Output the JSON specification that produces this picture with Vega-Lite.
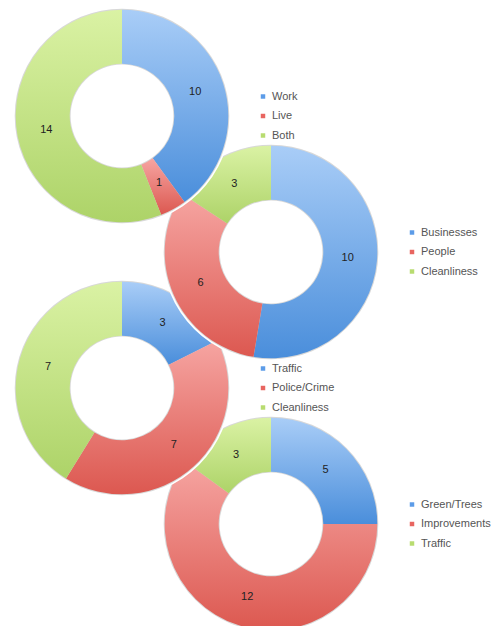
{
  "$schema": "https://vega.github.io/schema/vega-lite/v6.json",
  "width": 503,
  "height": 626,
  "padding": 0,
  "autosize": {"type": "fit", "contains": "padding"},
  "background": "white",
  "config": {"view": {"stroke": null}},
  "datasets": {
    "d": [
      {"chart": 1, "side": "left", "cat": "Work", "colorKey": "blue", "item": 0, "value": 10},
      {"chart": 1, "side": "left", "cat": "Live", "colorKey": "red", "item": 1, "value": 1},
      {"chart": 1, "side": "left", "cat": "Both", "colorKey": "green", "item": 2, "value": 14},
      {"chart": 2, "side": "right", "cat": "Businesses", "colorKey": "blue", "item": 0, "value": 10},
      {"chart": 2, "side": "right", "cat": "People", "colorKey": "red", "item": 1, "value": 6},
      {"chart": 2, "side": "right", "cat": "Cleanliness", "colorKey": "green", "item": 2, "value": 3},
      {"chart": 3, "side": "left", "cat": "Traffic", "colorKey": "blue", "item": 0, "value": 3},
      {"chart": 3, "side": "left", "cat": "Police/Crime", "colorKey": "red", "item": 1, "value": 7},
      {"chart": 3, "side": "left", "cat": "Cleanliness", "colorKey": "green", "item": 2, "value": 7},
      {"chart": 4, "side": "right", "cat": "Green/Trees", "colorKey": "blue", "item": 0, "value": 5},
      {"chart": 4, "side": "right", "cat": "Improvements", "colorKey": "red", "item": 1, "value": 12},
      {"chart": 4, "side": "right", "cat": "Traffic", "colorKey": "green", "item": 2, "value": 3}
    ]
  },
  "data": {"name": "d"},
  "encoding": {
    "x": {"field": "side", "type": "nominal", "axis": null, "scale": {"type": "point", "padding": 0, "domain": ["left", "right"], "range": [122, 271]}},
    "y": {"field": "chart", "type": "ordinal", "axis": null, "scale": {"type": "point", "padding": 0, "domain": [1, 2, 3, 4], "range": [116, 524]}}
  },
  "layer": [
    {
      "transform": [{"filter": "datum.chart === 4"}],
      "layer": [
        {"transform": [{"filter": "datum.item === 0"}], "mark": {"type": "arc", "theta": 0, "theta2": 6.2832, "radius": 108.8, "radius2": 50, "fill": "white", "opacity": 1}},
        {"transform": [{"filter": "datum.item === 0"}], "mark": {"type": "arc", "theta": 0, "theta2": 6.2832, "radius": 107.3, "radius2": 51.4, "fill": "#d8d8d8", "opacity": 1}},
        {"mark": {"type": "arc", "radius": 106.3, "radius2": 52.3, "opacity": 1},
         "encoding": {"theta": {"field": "value", "type": "quantitative", "stack": true}, "order": {"field": "item", "type": "quantitative"},
           "fill": {"condition": [
             {"test": "datum.colorKey === 'blue'", "value": {"gradient": "linear", "x1": 0, "y1": 0, "x2": 0, "y2": 1, "stops": [{"offset": 0, "color": "#a9cdf7"}, {"offset": 1, "color": "#4a8edb"}]}},
             {"test": "datum.colorKey === 'red'", "value": {"gradient": "linear", "x1": 0, "y1": 0, "x2": 0, "y2": 1, "stops": [{"offset": 0, "color": "#f6a5a2"}, {"offset": 1, "color": "#dc5850"}]}}],
             "value": {"gradient": "linear", "x1": 0, "y1": 0, "x2": 0, "y2": 1, "stops": [{"offset": 0, "color": "#daf2a4"}, {"offset": 1, "color": "#add368"}]}}}},
        {"mark": {"type": "text", "radius": 77, "font": "Liberation Sans", "fontSize": 11, "fill": "#222"},
         "encoding": {"theta": {"field": "value", "type": "quantitative", "stack": true}, "order": {"field": "item", "type": "quantitative"}, "text": {"field": "value", "type": "quantitative"}}}
      ]
    },
    {
      "transform": [{"filter": "datum.chart === 3"}],
      "layer": [
        {"transform": [{"filter": "datum.item === 0"}], "mark": {"type": "arc", "theta": 0, "theta2": 6.2832, "radius": 108.8, "radius2": 50, "fill": "white", "opacity": 1}},
        {"transform": [{"filter": "datum.item === 0"}], "mark": {"type": "arc", "theta": 0, "theta2": 6.2832, "radius": 107.3, "radius2": 51.4, "fill": "#d8d8d8", "opacity": 1}},
        {"mark": {"type": "arc", "radius": 106.3, "radius2": 52.3, "opacity": 1},
         "encoding": {"theta": {"field": "value", "type": "quantitative", "stack": true}, "order": {"field": "item", "type": "quantitative"},
           "fill": {"condition": [
             {"test": "datum.colorKey === 'blue'", "value": {"gradient": "linear", "x1": 0, "y1": 0, "x2": 0, "y2": 1, "stops": [{"offset": 0, "color": "#a9cdf7"}, {"offset": 1, "color": "#4a8edb"}]}},
             {"test": "datum.colorKey === 'red'", "value": {"gradient": "linear", "x1": 0, "y1": 0, "x2": 0, "y2": 1, "stops": [{"offset": 0, "color": "#f6a5a2"}, {"offset": 1, "color": "#dc5850"}]}}],
             "value": {"gradient": "linear", "x1": 0, "y1": 0, "x2": 0, "y2": 1, "stops": [{"offset": 0, "color": "#daf2a4"}, {"offset": 1, "color": "#add368"}]}}}},
        {"mark": {"type": "text", "radius": 77, "font": "Liberation Sans", "fontSize": 11, "fill": "#222"},
         "encoding": {"theta": {"field": "value", "type": "quantitative", "stack": true}, "order": {"field": "item", "type": "quantitative"}, "text": {"field": "value", "type": "quantitative"}}}
      ]
    },
    {
      "transform": [{"filter": "datum.chart === 2"}],
      "layer": [
        {"transform": [{"filter": "datum.item === 0"}], "mark": {"type": "arc", "theta": 0, "theta2": 6.2832, "radius": 108.8, "radius2": 50, "fill": "white", "opacity": 1}},
        {"transform": [{"filter": "datum.item === 0"}], "mark": {"type": "arc", "theta": 0, "theta2": 6.2832, "radius": 107.3, "radius2": 51.4, "fill": "#d8d8d8", "opacity": 1}},
        {"mark": {"type": "arc", "radius": 106.3, "radius2": 52.3, "opacity": 1},
         "encoding": {"theta": {"field": "value", "type": "quantitative", "stack": true}, "order": {"field": "item", "type": "quantitative"},
           "fill": {"condition": [
             {"test": "datum.colorKey === 'blue'", "value": {"gradient": "linear", "x1": 0, "y1": 0, "x2": 0, "y2": 1, "stops": [{"offset": 0, "color": "#a9cdf7"}, {"offset": 1, "color": "#4a8edb"}]}},
             {"test": "datum.colorKey === 'red'", "value": {"gradient": "linear", "x1": 0, "y1": 0, "x2": 0, "y2": 1, "stops": [{"offset": 0, "color": "#f6a5a2"}, {"offset": 1, "color": "#dc5850"}]}}],
             "value": {"gradient": "linear", "x1": 0, "y1": 0, "x2": 0, "y2": 1, "stops": [{"offset": 0, "color": "#daf2a4"}, {"offset": 1, "color": "#add368"}]}}}},
        {"mark": {"type": "text", "radius": 77, "font": "Liberation Sans", "fontSize": 11, "fill": "#222"},
         "encoding": {"theta": {"field": "value", "type": "quantitative", "stack": true}, "order": {"field": "item", "type": "quantitative"}, "text": {"field": "value", "type": "quantitative"}}}
      ]
    },
    {
      "transform": [{"filter": "datum.chart === 1"}],
      "layer": [
        {"transform": [{"filter": "datum.item === 0"}], "mark": {"type": "arc", "theta": 0, "theta2": 6.2832, "radius": 108.8, "radius2": 50, "fill": "white", "opacity": 1}},
        {"transform": [{"filter": "datum.item === 0"}], "mark": {"type": "arc", "theta": 0, "theta2": 6.2832, "radius": 107.3, "radius2": 51.4, "fill": "#d8d8d8", "opacity": 1}},
        {"mark": {"type": "arc", "radius": 106.3, "radius2": 52.3, "opacity": 1},
         "encoding": {"theta": {"field": "value", "type": "quantitative", "stack": true}, "order": {"field": "item", "type": "quantitative"},
           "fill": {"condition": [
             {"test": "datum.colorKey === 'blue'", "value": {"gradient": "linear", "x1": 0, "y1": 0, "x2": 0, "y2": 1, "stops": [{"offset": 0, "color": "#a9cdf7"}, {"offset": 1, "color": "#4a8edb"}]}},
             {"test": "datum.colorKey === 'red'", "value": {"gradient": "linear", "x1": 0, "y1": 0, "x2": 0, "y2": 1, "stops": [{"offset": 0, "color": "#f6a5a2"}, {"offset": 1, "color": "#dc5850"}]}}],
             "value": {"gradient": "linear", "x1": 0, "y1": 0, "x2": 0, "y2": 1, "stops": [{"offset": 0, "color": "#daf2a4"}, {"offset": 1, "color": "#add368"}]}}}},
        {"mark": {"type": "text", "radius": 77, "font": "Liberation Sans", "fontSize": 11, "fill": "#222"},
         "encoding": {"theta": {"field": "value", "type": "quantitative", "stack": true}, "order": {"field": "item", "type": "quantitative"}, "text": {"field": "value", "type": "quantitative"}}}
      ]
    },
    {
      "transform": [{"filter": "datum.item === 0"}],
      "layer": [
        {"mark": {"type": "square", "size": 20, "opacity": 1, "xOffset": 141, "yOffset": -19.5},
         "encoding": {"color": {"field": "colorKey", "type": "nominal", "legend": null, "scale": {"domain": ["blue", "red", "green"], "range": ["#5c9ce8", "#e86560", "#b8dc70"]}}}},
        {"mark": {"type": "text", "align": "left", "baseline": "middle", "xOffset": 150, "yOffset": -19.5, "font": "Liberation Sans", "fontSize": 11, "fill": "#555"},
         "encoding": {"text": {"field": "cat", "type": "nominal"}}}
      ]
    },
    {
      "transform": [{"filter": "datum.item === 1"}],
      "layer": [
        {"mark": {"type": "square", "size": 20, "opacity": 1, "xOffset": 141, "yOffset": 0},
         "encoding": {"color": {"field": "colorKey", "type": "nominal", "legend": null, "scale": {"domain": ["blue", "red", "green"], "range": ["#5c9ce8", "#e86560", "#b8dc70"]}}}},
        {"mark": {"type": "text", "align": "left", "baseline": "middle", "xOffset": 150, "yOffset": 0, "font": "Liberation Sans", "fontSize": 11, "fill": "#555"},
         "encoding": {"text": {"field": "cat", "type": "nominal"}}}
      ]
    },
    {
      "transform": [{"filter": "datum.item === 2"}],
      "layer": [
        {"mark": {"type": "square", "size": 20, "opacity": 1, "xOffset": 141, "yOffset": 19.5},
         "encoding": {"color": {"field": "colorKey", "type": "nominal", "legend": null, "scale": {"domain": ["blue", "red", "green"], "range": ["#5c9ce8", "#e86560", "#b8dc70"]}}}},
        {"mark": {"type": "text", "align": "left", "baseline": "middle", "xOffset": 150, "yOffset": 19.5, "font": "Liberation Sans", "fontSize": 11, "fill": "#555"},
         "encoding": {"text": {"field": "cat", "type": "nominal"}}}
      ]
    }
  ],
  "resolve": {"scale": {"theta": "independent"}}
}
